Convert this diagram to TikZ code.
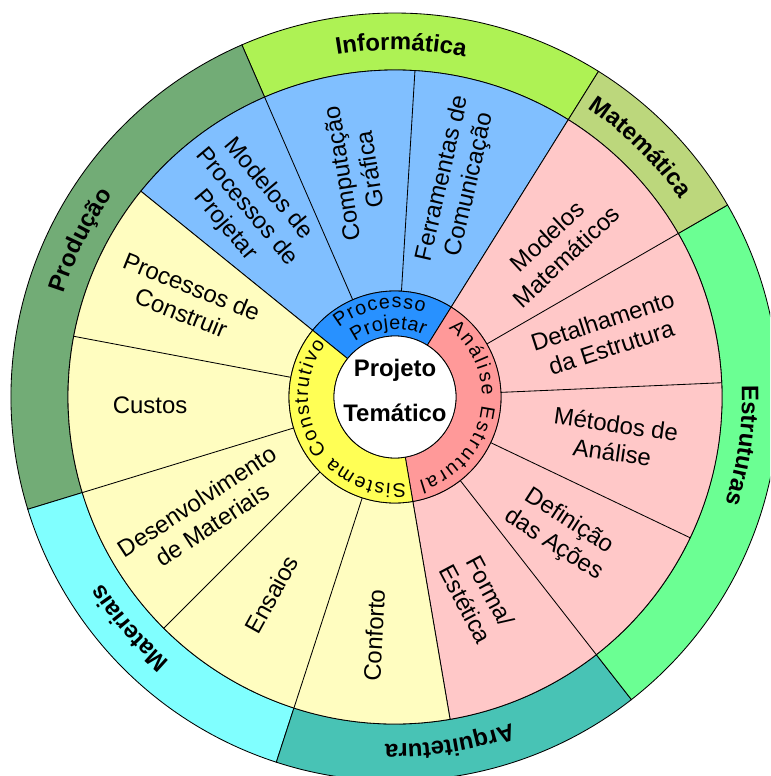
\documentclass[tikz,border=0pt]{standalone}
\usepackage{fontspec}
\setmainfont{Liberation Sans}
\usetikzlibrary{decorations.text}

\definecolor{producao}{HTML}{72AC76}
\definecolor{informatica}{HTML}{AEF254}
\definecolor{matematica}{HTML}{BCD77C}
\definecolor{estruturas}{HTML}{6BFF93}
\definecolor{arquitetura}{HTML}{48C3B5}
\definecolor{materiais}{HTML}{80FFFF}
\definecolor{azulclaro}{HTML}{80BFFF}
\definecolor{rosaclaro}{HTML}{FFC8C8}
\definecolor{amareloclaro}{HTML}{FFFDC0}
\definecolor{azul}{HTML}{2891FF}
\definecolor{rosa}{HTML}{FF9999}
\definecolor{amarelo}{HTML}{FFFF55}

\newcommand{\setor}[5]{%
  \filldraw[fill=#1] (#2:#4) arc[start angle=#2, end angle=#3, radius=#4]
    -- (#3:#5) arc[start angle=#3, end angle=#2, radius=#5] -- cycle;}
\newcommand{\rotulo}[6]{%
  \path[decorate, decoration={text along path, text align={#6},
    text={|#5|#1}}] (#2:#4) arc[start angle=#2, end angle=#3, radius=#4];}

\begin{document}
\begin{tikzpicture}[x=0.025cm,y=0.025cm,line width=0.6pt,
  topico/.style={font=\fontsize{17}{20}\selectfont, align=center},
  centro/.style={font=\fontsize{17}{20}\selectfont\bfseries}]
\useasboundingbox (-395,-379) rectangle (375,397);
\clip (-395,-379) rectangle (375,397);

% anel externo
\setor{informatica}{58}{113.5}{327}{384}
\setor{producao}{113.5}{197}{327}{384}
\setor{materiais}{197}{252}{327}{384}
\setor{arquitetura}{252}{308}{327}{384}
\setor{estruturas}{-52}{30}{327}{384}
\setor{matematica}{30}{58}{327}{384}

% anel do meio
\setor{azulclaro}{58}{141}{106}{327}
\setor{rosaclaro}{-80.3}{58}{106}{327}
\setor{amareloclaro}{141}{279.7}{106}{327}
\foreach \a in {113.5,86.5,30,2.5,-25.5,-52,-108,-135,197,169.3}
  \draw (\a:106) -- (\a:327);

% anel interno
\setor{azul}{58}{141}{61}{106}
\setor{rosa}{-80.3}{58}{61}{106}
\setor{amarelo}{141}{279.7}{61}{106}
\filldraw[fill=white] (0,0) circle[radius=61];

\node[centro, anchor=base] (projeto) at (0,20) {Projeto};
\node[centro, anchor=base] (tematico) at (0,-25) {Temático};

\rotulo{Processo}{129}{71}{89}{\fontsize{14}{16}\selectfont}{fit to path}
\rotulo{Projetar}{126}{65}{68}{\fontsize{14}{16}\selectfont}{fit to path}
\rotulo{Análise Estrutural}{52}{-74}{87}{\fontsize{14}{16}\selectfont}{fit to path}
\rotulo{Sistema Construtivo}{277}{143}{87}{\fontsize{14}{16}\selectfont}{fit to path}

\rotulo{Informática}{134}{44}{347}{\fontsize{17}{20}\selectfont\bfseries}{center}
\rotulo{Matemática}{90}{1}{347}{\fontsize{17}{20}\selectfont\bfseries}{center}
\rotulo{Estruturas}{37}{-53}{347}{\fontsize{17}{20}\selectfont\bfseries}{center}
\rotulo{Arquitetura}{-36}{-126}{347}{\fontsize{17}{20}\selectfont\bfseries}{center}
\rotulo{Materiais}{266}{176}{347}{\fontsize{17}{20}\selectfont\bfseries}{center}
\rotulo{Produção}{198.5}{108.5}{347}{\fontsize{17}{20}\selectfont\bfseries}{center}

\node[topico, rotate=-50] (mpp) at (128:241) {Modelos de\\Processos de\\Projetar};
\node[topico, rotate=99] (cg) at (100:229) {Computação\\Gráfica};
\node[topico, rotate=77] (fc) at (74:224) {Ferramentas de\\Comunicação};
\node[topico, rotate=43] (mm) at (43:221) {Modelos\\Matemáticos};
\node[topico, rotate=18] (de) at (16.5:221) {Detalhamento\\da Estrutura};
\node[topico, rotate=-8] (ma) at (-10.6:223) {Métodos de\\Análise};
\node[topico, rotate=-33] (da) at (-39.3:215) {Definição\\das Ações};
\node[topico, rotate=-62] (fe) at (-67.5:217) {Forma/\\Estética};
\node[topico, rotate=87] (cf) at (-95:239) {Conforto};
\node[topico, rotate=61] (en) at (-122:233) {Ensaios};
\node[topico, rotate=33] (dm) at (211.3:223) {Desenvolvimento\\de Materiais};
\node[topico] (cu) at (182:245) {Custos};
\node[topico, rotate=-22] (pc) at (155:230) {Processos de\\Construir};
\end{tikzpicture}
\end{document}
